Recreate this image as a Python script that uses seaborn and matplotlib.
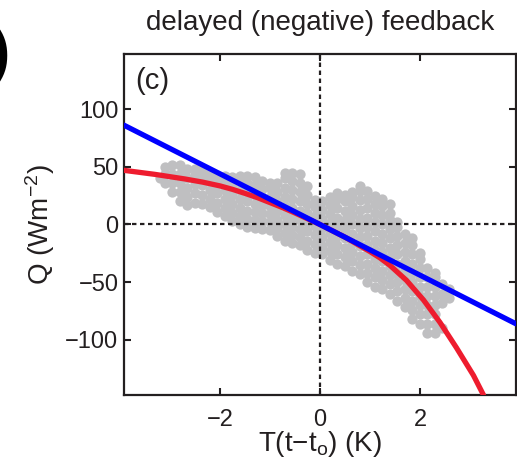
import matplotlib
matplotlib.use("Agg")
import matplotlib.pyplot as plt
import seaborn as sns
import pandas as pd

sns.set_style("ticks")
plt.rcParams["font.family"] = ["Liberation Sans", "DejaVu Sans"]
plt.rcParams["mathtext.fontset"] = "custom"
plt.rcParams["mathtext.rm"] = "Liberation Sans"
plt.rcParams["mathtext.it"] = "Liberation Sans"

# temperature anomaly T(t - t0) and heat flux Q of the model cloud
cloud_T = [
    -3.20,
    -3.10, -3.10, -3.10,
    -2.95, -2.95, -2.95, -2.95,
    -2.80, -2.80, -2.80, -2.80, -2.80,
    -2.65, -2.65, -2.65, -2.65, -2.65,
    -2.50, -2.50, -2.50, -2.50, -2.50,
    -2.35, -2.35, -2.35, -2.35, -2.35,
    -2.20, -2.20, -2.20, -2.20, -2.20,
    -2.05, -2.05, -2.05, -2.05, -2.05,
    -1.90, -1.90, -1.90, -1.90, -1.90, -1.90,
    -1.75, -1.75, -1.75, -1.75, -1.75, -1.75,
    -1.60, -1.60, -1.60, -1.60, -1.60, -1.60, -1.60,
    -1.45, -1.45, -1.45, -1.45, -1.45, -1.45, -1.45,
    -1.30, -1.30, -1.30, -1.30, -1.30, -1.30, -1.30,
    -1.15, -1.15, -1.15, -1.15, -1.15, -1.15, -1.15,
    -1.00, -1.00, -1.00, -1.00, -1.00, -1.00, -1.00,
    -0.85, -0.85, -0.85, -0.85, -0.85, -0.85, -0.85,
    -0.70, -0.70, -0.70, -0.70, -0.70, -0.70, -0.70, -0.70, -0.70,
    -0.55, -0.55, -0.55, -0.55, -0.55, -0.55, -0.55, -0.55, -0.55,
    -0.40, -0.40, -0.40, -0.40, -0.40, -0.40, -0.40, -0.40, -0.40,
    -0.25, -0.25, -0.25, -0.25, -0.25, -0.25, -0.25, -0.25,
    -0.10, -0.10, -0.10, -0.10, -0.10, -0.10, -0.10,
    0.05, 0.05, 0.05, 0.05, 0.05, 0.05, 0.05,
    0.20, 0.20, 0.20, 0.20, 0.20, 0.20, 0.20, 0.20,
    0.35, 0.35, 0.35, 0.35, 0.35, 0.35, 0.35, 0.35, 0.35,
    0.50, 0.50, 0.50, 0.50, 0.50, 0.50, 0.50, 0.50, 0.50,
    0.65, 0.65, 0.65, 0.65, 0.65, 0.65, 0.65, 0.65, 0.65, 0.65,
    0.80, 0.80, 0.80, 0.80, 0.80, 0.80, 0.80, 0.80, 0.80, 0.80, 0.80,
    0.95, 0.95, 0.95, 0.95, 0.95, 0.95, 0.95, 0.95, 0.95, 0.95, 0.95,
    1.10, 1.10, 1.10, 1.10, 1.10, 1.10, 1.10, 1.10, 1.10, 1.10, 1.10,
    1.25, 1.25, 1.25, 1.25, 1.25, 1.25, 1.25, 1.25, 1.25, 1.25, 1.25,
    1.40, 1.40, 1.40, 1.40, 1.40, 1.40, 1.40, 1.40, 1.40, 1.40, 1.40,
    1.55, 1.55, 1.55, 1.55, 1.55, 1.55, 1.55, 1.55, 1.55, 1.55,
    1.70, 1.70, 1.70, 1.70, 1.70, 1.70, 1.70, 1.70, 1.70,
    1.85, 1.85, 1.85, 1.85, 1.85, 1.85, 1.85, 1.85, 1.85, 1.85,
    2.00, 2.00, 2.00, 2.00, 2.00, 2.00, 2.00, 2.00, 2.00,
    2.15, 2.15, 2.15, 2.15, 2.15, 2.15, 2.15, 2.15,
    2.30, 2.30, 2.30, 2.30, 2.30, 2.30, 2.30, 2.30,
    2.45, 2.45, 2.45, 2.45,
    2.58, 2.58,
]
cloud_Q = [
    40,
    36, 44, 50,
    28, 36, 44, 52,
    20, 28, 36, 44, 52,
    17, 24, 32, 40, 48,
    19, 27, 35, 43, 48,
    18, 26, 34, 42, 47,
    15, 22, 30, 38, 44,
    11, 19, 27, 35, 42,
    7, 14, 22, 30, 38, 42,
    3, 10, 18, 26, 34, 41,
    0, 7, 14, 22, 30, 38, 42,
    -2, 5, 12, 20, 28, 36, 42,
    -3, 4, 11, 18, 26, 34, 41,
    -4, 3, 10, 17, 24, 31, 38,
    -5, 2, 9, 16, 24, 32, 36,
    -10, -3, 4, 12, 20, 28, 36,
    -14, -7, 0, 8, 16, 24, 32, 40, 45,
    -16, -9, -2, 6, 14, 22, 30, 38, 45,
    -18, -11, -4, 4, 12, 20, 28, 36, 44,
    -22, -14, -6, 2, 10, 18, 26, 33,
    -25, -17, -9, -1, 7, 15, 21,
    -26, -19, -11, -3, 5, 13, 20,
    -31, -23, -15, -7, 1, 9, 17, 24,
    -34, -26, -18, -10, -2, 6, 14, 22, 27,
    -36, -28, -20, -12, -4, 4, 12, 20, 26,
    -40, -32, -24, -16, -8, 0, 8, 16, 24, 28,
    -43, -35, -27, -19, -11, -3, 5, 13, 21, 29, 33,
    -50, -42, -34, -26, -18, -10, -2, 6, 14, 22, 29,
    -54, -46, -38, -30, -22, -14, -6, 2, 10, 18, 25,
    -56, -48, -40, -32, -24, -16, -8, 0, 8, 16, 22,
    -60, -52, -44, -36, -28, -20, -12, -4, 4, 10, 18,
    -66, -58, -50, -42, -34, -26, -18, -10, -2, 2,
    -72, -64, -56, -48, -40, -32, -24, -16, -8,
    -82, -74, -66, -58, -50, -42, -34, -26, -18, -12,
    -86, -78, -70, -62, -54, -46, -38, -30, -25,
    -94, -86, -78, -70, -62, -54, -46, -38,
    -94, -86, -78, -70, -62, -54, -46, -42,
    -90, -68, -60, -52,
    -64, -56,
]

# linear feedback fit
linear_T = [-3.92, 3.92]
linear_Q = [86.2, -86.2]

# nonlinear (delayed) feedback curve
curve_T = [-3.92, -3.3, -2.7, -2.35, -2.0, -1.75, -1.5, -1.25, -1.0, -0.75,
           -0.5, 0.0, 0.5, 1.0, 1.2, 1.4, 1.73, 2.07, 2.4, 2.73, 3.07, 3.27]
curve_Q = [47, 43.5, 39.5, 36.8, 33.5, 30.5, 27, 23.3, 19, 14.7,
           10, 0, -11, -23.5, -29, -35.5, -48.5, -65.5, -85, -107, -131, -148]

x_ticks = [-2, 0, 2]
y_ticks = [-100, -50, 0, 50, 100]

INK = "#231f20"

fig = plt.figure(figsize=(5.17, 4.63), dpi=100)
ax = fig.add_axes([0.2398, 0.1469, 0.7582, 0.7365])

cloud = pd.DataFrame({"T": cloud_T, "Q": cloud_Q})
sns.scatterplot(data=cloud, x="T", y="Q", color="#bfbfc1", s=55,
                linewidth=0, ax=ax, zorder=1)

ax.axhline(0, color=INK, lw=1.6, ls=(0, (2.0, 1.6)), zorder=2)
ax.axvline(0, color=INK, lw=1.6, ls=(0, (2.0, 1.6)), zorder=2)

sns.lineplot(x=curve_T, y=curve_Q, color="#ee1c2e", lw=3.8, sort=False,
             estimator=None, ax=ax, zorder=3)
sns.lineplot(x=linear_T, y=linear_Q, color="#0000ff", lw=3.8, sort=False,
             estimator=None, ax=ax, zorder=4)

ax.set_xlim(-3.92, 3.92)
ax.set_ylim(-148, 148)
ax.set_xticks(x_ticks)
ax.set_yticks(y_ticks)
ax.tick_params(direction="in", length=5, width=1.5, top=True, right=True,
               labelsize=17, colors=INK)
ax.tick_params(axis="x", pad=10)
ax.tick_params(axis="y", pad=4)
for s in ax.spines.values():
    s.set_linewidth(1.6)
    s.set_color(INK)

ax.set_xlabel(r"T(t$-$t$_{\rm o}$) (K)", fontsize=20, color=INK,
              labelpad=-1)
ax.set_ylabel(r"Q (Wm$^{-2}$)", fontsize=20, color=INK, labelpad=6)
ax.set_title("delayed (negative) feedback", fontsize=20, color=INK,
             pad=17)
ax.text(0.028, 0.962, "(c)", transform=ax.transAxes, fontsize=21,
        color=INK, ha="left", va="top")
fig.text(0.0, 0.88, ")", fontsize=44, fontweight="bold", color="black",
         ha="center", va="center")

fig.savefig("out.png", dpi=100)
